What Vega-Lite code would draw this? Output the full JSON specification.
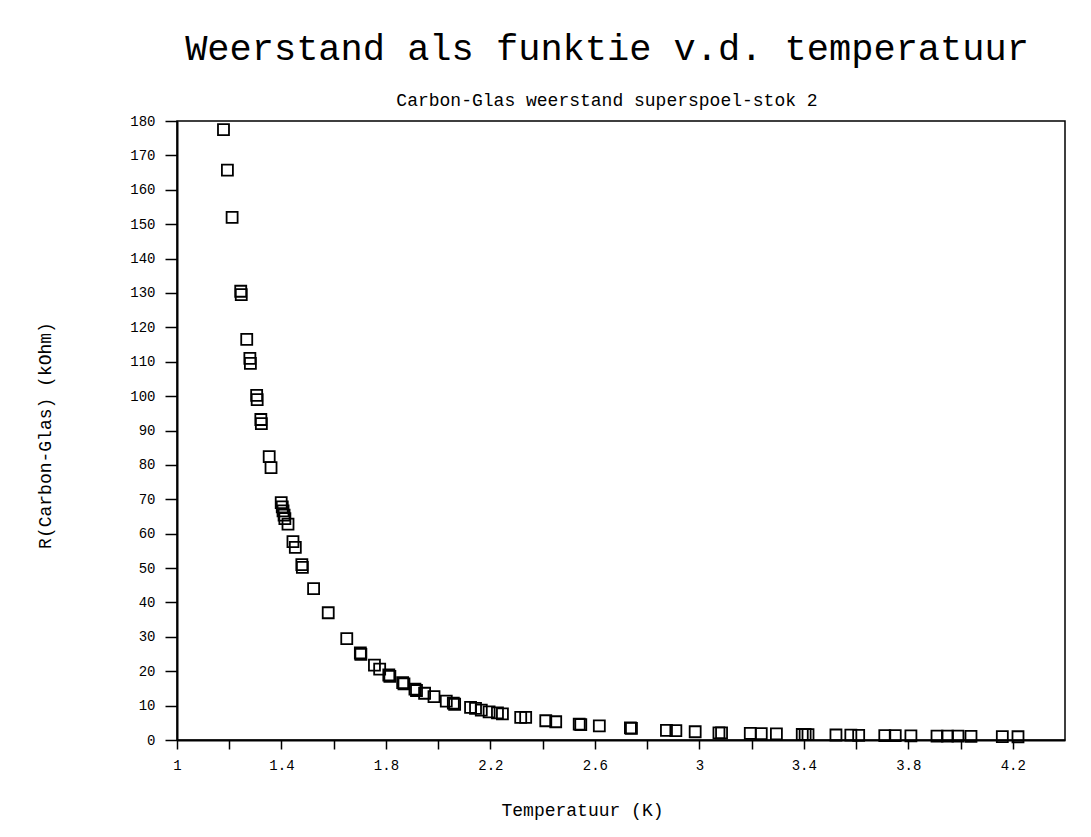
{
  "$schema": "https://vega.github.io/schema/vega-lite/v6.json",
  "autosize": "none",
  "width": 888,
  "height": 619,
  "padding": {"left": 177, "top": 121, "right": 26, "bottom": 97},
  "background": "white",
  "title": {
    "text": "Weerstand als funktie v.d. temperatuur",
    "subtitle": "Carbon-Glas weerstand superspoel-stok 2",
    "anchor": "middle",
    "font": "Liberation Mono",
    "fontSize": 37,
    "fontWeight": "normal",
    "color": "black",
    "subtitleFont": "Liberation Mono",
    "subtitleFontSize": 18,
    "subtitleColor": "black",
    "subtitlePadding": 24,
    "offset": 3,
    "dx": -14
  },
  "config": {
    "view": {"stroke": "black", "strokeWidth": 1.5},
    "axis": {
      "labelFont": "Liberation Mono",
      "titleFont": "Liberation Mono",
      "labelColor": "black",
      "titleColor": "black",
      "domainColor": "black",
      "tickColor": "black",
      "grid": false
    }
  },
  "data": {
    "values": [
      {"T": 1.178, "R": 177.5},
      {"T": 1.193, "R": 165.7},
      {"T": 1.211, "R": 152.0},
      {"T": 1.244, "R": 130.5},
      {"T": 1.246, "R": 129.5},
      {"T": 1.267, "R": 116.5},
      {"T": 1.279, "R": 111.0},
      {"T": 1.281, "R": 109.5},
      {"T": 1.305, "R": 100.2},
      {"T": 1.307, "R": 99.0},
      {"T": 1.321, "R": 93.2},
      {"T": 1.323, "R": 92.0},
      {"T": 1.353, "R": 82.4},
      {"T": 1.360, "R": 79.2},
      {"T": 1.399, "R": 69.0},
      {"T": 1.403, "R": 67.8},
      {"T": 1.406, "R": 66.6},
      {"T": 1.410, "R": 65.4},
      {"T": 1.413, "R": 64.4},
      {"T": 1.425, "R": 62.8},
      {"T": 1.444, "R": 57.7},
      {"T": 1.453, "R": 56.0},
      {"T": 1.478, "R": 51.0},
      {"T": 1.480, "R": 50.2},
      {"T": 1.523, "R": 44.0},
      {"T": 1.579, "R": 37.0},
      {"T": 1.650, "R": 29.5},
      {"T": 1.702, "R": 25.3},
      {"T": 1.704, "R": 24.9},
      {"T": 1.756, "R": 21.8},
      {"T": 1.776, "R": 20.6},
      {"T": 1.811, "R": 18.9},
      {"T": 1.815, "R": 18.5},
      {"T": 1.864, "R": 16.7},
      {"T": 1.869, "R": 16.3},
      {"T": 1.911, "R": 14.8},
      {"T": 1.917, "R": 14.4},
      {"T": 1.948, "R": 13.6},
      {"T": 1.984, "R": 12.6},
      {"T": 2.031, "R": 11.3},
      {"T": 2.058, "R": 10.7},
      {"T": 2.063, "R": 10.4},
      {"T": 2.124, "R": 9.5},
      {"T": 2.143, "R": 9.2},
      {"T": 2.165, "R": 8.7},
      {"T": 2.195, "R": 8.2},
      {"T": 2.227, "R": 7.9},
      {"T": 2.246, "R": 7.6},
      {"T": 2.316, "R": 6.6},
      {"T": 2.335, "R": 6.6},
      {"T": 2.412, "R": 5.6},
      {"T": 2.450, "R": 5.3},
      {"T": 2.540, "R": 4.6},
      {"T": 2.546, "R": 4.5},
      {"T": 2.617, "R": 4.1},
      {"T": 2.736, "R": 3.5},
      {"T": 2.740, "R": 3.4},
      {"T": 2.874, "R": 2.8},
      {"T": 2.910, "R": 2.7},
      {"T": 2.984, "R": 2.4},
      {"T": 3.075, "R": 2.1},
      {"T": 3.085, "R": 2.1},
      {"T": 3.195, "R": 1.9},
      {"T": 3.237, "R": 1.85},
      {"T": 3.295, "R": 1.8},
      {"T": 3.394, "R": 1.6},
      {"T": 3.405, "R": 1.6},
      {"T": 3.416, "R": 1.55},
      {"T": 3.523, "R": 1.45},
      {"T": 3.580, "R": 1.4},
      {"T": 3.610, "R": 1.35},
      {"T": 3.710, "R": 1.3},
      {"T": 3.750, "R": 1.25},
      {"T": 3.810, "R": 1.2},
      {"T": 3.910, "R": 1.15},
      {"T": 3.950, "R": 1.1},
      {"T": 3.990, "R": 1.1},
      {"T": 4.040, "R": 1.05},
      {"T": 4.160, "R": 1.0},
      {"T": 4.220, "R": 0.95}
    ]
  },
  "mark": {"type": "point", "shape": "square", "filled": false, "size": 121, "stroke": "black", "strokeWidth": 1.8, "opacity": 1},
  "encoding": {
    "x": {
      "field": "T",
      "type": "quantitative",
      "scale": {"domain": [1, 4.4], "nice": false, "zero": false},
      "axis": {
        "title": "Temperatuur (K)",
        "values": [1, 1.2, 1.4, 1.6, 1.8, 2, 2.2, 2.4, 2.6, 2.8, 3, 3.2, 3.4, 3.6, 3.8, 4, 4.2],
        "labelExpr": "abs(((datum.value - 1) / 0.4) - round((datum.value - 1) / 0.4)) < 0.01 ? format(datum.value, '') : ''",
        "labelFontSize": 14,
        "labelPadding": 9,
        "labelFlush": false,
        "labelOverlap": false,
        "tickSize": 9,
        "tickWidth": 1.5,
        "domainWidth": 2,
        "titleFontSize": 18,
        "titleFontWeight": "normal",
        "titleX": 405,
        "titleY": 70,
        "titleAlign": "center",
        "titleBaseline": "middle"
      }
    },
    "y": {
      "field": "R",
      "type": "quantitative",
      "scale": {"domain": [0, 180], "nice": false},
      "axis": {
        "title": "R(Carbon-Glas) (kOhm)",
        "values": [0, 10, 20, 30, 40, 50, 60, 70, 80, 90, 100, 110, 120, 130, 140, 150, 160, 170, 180],
        "labelFontSize": 14,
        "labelPadding": 10,
        "labelFlush": false,
        "labelOverlap": false,
        "tickSize": 12,
        "tickWidth": 1.5,
        "domainWidth": 2,
        "titleFontSize": 18,
        "titleFontWeight": "normal",
        "titleAngle": -90,
        "titleX": -132,
        "titleY": 314,
        "titleAlign": "center",
        "titleBaseline": "middle"
      }
    }
  }
}
